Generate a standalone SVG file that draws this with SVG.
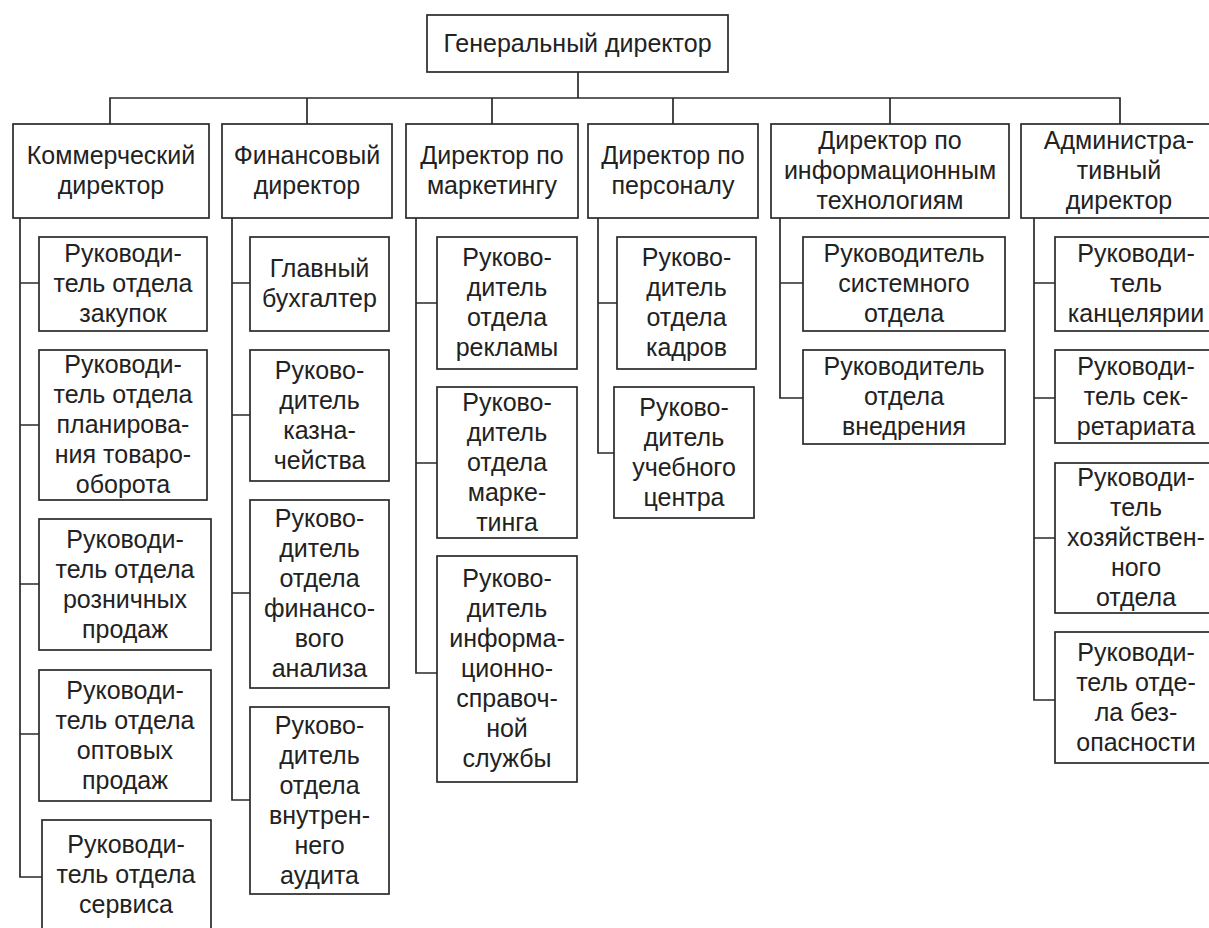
<svg xmlns="http://www.w3.org/2000/svg" width="1209" height="928" viewBox="0 0 1209 928">
<style>
rect{fill:#fff;stroke:#2a2a2a;stroke-width:1.7}
text{font-family:"Liberation Sans",Arial,sans-serif;font-size:25px;fill:#222;text-anchor:middle}
.c{fill:none;stroke:#2a2a2a;stroke-width:1.7}
</style>
<rect x="0" y="0" width="1209" height="928" style="fill:#fff;stroke:none"/>
<g id="connectors">
<path class="c" d="M578,72V98M110,124V98H1120V124M307,98V124M492,98V124M673,98V124M890,98V124"/>
<path class="c" d="M20,218V877H42M20,283H39M20,425H39M20,584H40M20,734H39"/>
<path class="c" d="M232,218V800H250M232,283H250M232,415H250M232,593H250"/>
<path class="c" d="M416,218V673H437M416,303H437M416,463H437"/>
<path class="c" d="M598,218V453H614M598,303H617"/>
<path class="c" d="M780,218V398H803M780,283H803"/>
<path class="c" d="M1034,218V700H1055M1034,283H1055M1034,398H1055M1034,538H1055"/>
</g>
<g id="gd"><rect x="427" y="15" width="301" height="57"/><text x="577.5" y="52">Генеральный директор</text></g>
<g id="kd"><rect x="13" y="124" width="196" height="94"/><text x="111" y="164">Коммерческий<tspan x="111" dy="30">директор</tspan></text></g>
<g id="fd"><rect x="222" y="124" width="170" height="94"/><text x="307" y="164">Финансовый<tspan x="307" dy="30">директор</tspan></text></g>
<g id="dm"><rect x="406" y="124" width="172" height="94"/><text x="492" y="164">Директор по<tspan x="492" dy="30">маркетингу</tspan></text></g>
<g id="dp"><rect x="588" y="124" width="170" height="94"/><text x="673" y="164">Директор по<tspan x="673" dy="30">персоналу</tspan></text></g>
<g id="dit"><rect x="771" y="124" width="238" height="94"/><text x="890" y="149">Директор по<tspan x="890" dy="30">информационным</tspan><tspan x="890" dy="30">технологиям</tspan></text></g>
<g id="ad"><rect x="1021" y="124" width="196" height="94"/><text x="1119" y="149">Администра-<tspan x="1119" dy="30">тивный</tspan><tspan x="1119" dy="30">директор</tspan></text></g>

<g id="k1"><rect x="39" y="237" width="168" height="94"/><text x="123" y="262">Руководи-<tspan x="123" dy="30">тель отдела</tspan><tspan x="123" dy="30">закупок</tspan></text></g>
<g id="k2"><rect x="39" y="350" width="168" height="150"/><text x="123" y="373">Руководи-<tspan x="123" dy="30">тель отдела</tspan><tspan x="123" dy="30">планирова-</tspan><tspan x="123" dy="30">ния товаро-</tspan><tspan x="123" dy="30">оборота</tspan></text></g>
<g id="k3"><rect x="39" y="519" width="172" height="131"/><text x="125" y="547.5">Руководи-<tspan x="125" dy="30">тель отдела</tspan><tspan x="125" dy="30">розничных</tspan><tspan x="125" dy="30">продаж</tspan></text></g>
<g id="k4"><rect x="39" y="670" width="172" height="131"/><text x="125" y="698.5">Руководи-<tspan x="125" dy="30">тель отдела</tspan><tspan x="125" dy="30">оптовых</tspan><tspan x="125" dy="30">продаж</tspan></text></g>
<g id="k5"><rect x="42" y="820" width="169" height="115"/><text x="126" y="853">Руководи-<tspan x="126" dy="30">тель отдела</tspan><tspan x="126" dy="30">сервиса</tspan></text></g>

<g id="f1"><rect x="250" y="237" width="139" height="94"/><text x="319.5" y="277">Главный<tspan x="319.5" dy="30">бухгалтер</tspan></text></g>
<g id="f2"><rect x="250" y="350" width="139" height="131"/><text x="319.5" y="378.5">Руково-<tspan x="319.5" dy="30">дитель</tspan><tspan x="319.5" dy="30">казна-</tspan><tspan x="319.5" dy="30">чейства</tspan></text></g>
<g id="f3"><rect x="250" y="500" width="139" height="188"/><text x="319.5" y="527">Руково-<tspan x="319.5" dy="30">дитель</tspan><tspan x="319.5" dy="30">отдела</tspan><tspan x="319.5" dy="30">финансо-</tspan><tspan x="319.5" dy="30">вого</tspan><tspan x="319.5" dy="30">анализа</tspan></text></g>
<g id="f4"><rect x="250" y="707" width="139" height="187"/><text x="319.5" y="733.5">Руково-<tspan x="319.5" dy="30">дитель</tspan><tspan x="319.5" dy="30">отдела</tspan><tspan x="319.5" dy="30">внутрен-</tspan><tspan x="319.5" dy="30">него</tspan><tspan x="319.5" dy="30">аудита</tspan></text></g>

<g id="m1"><rect x="437" y="237" width="140" height="132"/><text x="507" y="266">Руково-<tspan x="507" dy="30">дитель</tspan><tspan x="507" dy="30">отдела</tspan><tspan x="507" dy="30">рекламы</tspan></text></g>
<g id="m2"><rect x="437" y="387" width="140" height="151"/><text x="507" y="410.5">Руково-<tspan x="507" dy="30">дитель</tspan><tspan x="507" dy="30">отдела</tspan><tspan x="507" dy="30">марке-</tspan><tspan x="507" dy="30">тинга</tspan></text></g>
<g id="m3"><rect x="437" y="556" width="140" height="226"/><text x="507" y="587">Руково-<tspan x="507" dy="30">дитель</tspan><tspan x="507" dy="30">информа-</tspan><tspan x="507" dy="30">ционно-</tspan><tspan x="507" dy="30">справоч-</tspan><tspan x="507" dy="30">ной</tspan><tspan x="507" dy="30">службы</tspan></text></g>

<g id="p1"><rect x="617" y="237" width="139" height="132"/><text x="686.5" y="266">Руково-<tspan x="686.5" dy="30">дитель</tspan><tspan x="686.5" dy="30">отдела</tspan><tspan x="686.5" dy="30">кадров</tspan></text></g>
<g id="p2"><rect x="614" y="387" width="140" height="131"/><text x="684" y="415.5">Руково-<tspan x="684" dy="30">дитель</tspan><tspan x="684" dy="30">учебного</tspan><tspan x="684" dy="30">центра</tspan></text></g>

<g id="i1"><rect x="803" y="237" width="202" height="94"/><text x="904" y="262">Руководитель<tspan x="904" dy="30">системного</tspan><tspan x="904" dy="30">отдела</tspan></text></g>
<g id="i2"><rect x="803" y="350" width="202" height="94"/><text x="904" y="375">Руководитель<tspan x="904" dy="30">отдела</tspan><tspan x="904" dy="30">внедрения</tspan></text></g>

<g id="a1"><rect x="1055" y="237" width="162" height="94"/><text x="1136" y="262">Руководи-<tspan x="1136" dy="30">тель</tspan><tspan x="1136" dy="30">канцелярии</tspan></text></g>
<g id="a2"><rect x="1055" y="350" width="162" height="93"/><text x="1136" y="374.5">Руководи-<tspan x="1136" dy="30">тель сек-</tspan><tspan x="1136" dy="30">ретариата</tspan></text></g>
<g id="a3"><rect x="1055" y="463" width="162" height="150"/><text x="1136" y="486">Руководи-<tspan x="1136" dy="30">тель</tspan><tspan x="1136" dy="30">хозяйствен-</tspan><tspan x="1136" dy="30">ного</tspan><tspan x="1136" dy="30">отдела</tspan></text></g>
<g id="a4"><rect x="1055" y="632" width="162" height="131"/><text x="1136" y="660.5">Руководи-<tspan x="1136" dy="30">тель отде-</tspan><tspan x="1136" dy="30">ла без-</tspan><tspan x="1136" dy="30">опасности</tspan></text></g>
</svg>
